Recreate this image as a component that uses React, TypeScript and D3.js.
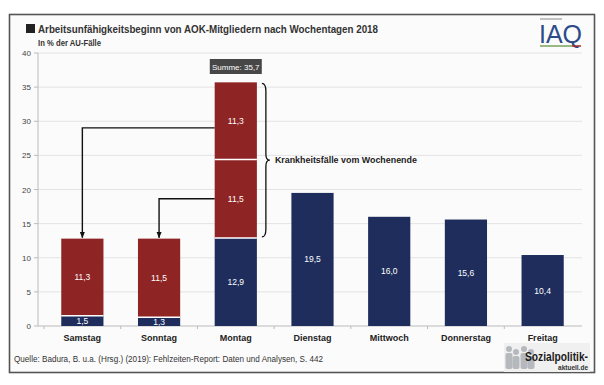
import React from 'react';
import * as d3 from 'd3';

const days = ['Samstag', 'Sonntag', 'Montag', 'Dienstag', 'Mittwoch', 'Donnerstag', 'Freitag'];
// blue base share, lower red share, upper red share (only Montag has both)
const baseValues = [1.5, 1.3, 12.9, 19.5, 16.0, 15.6, 10.4];
const weekendLower = [11.3, 11.5, 11.5, 0, 0, 0, 0];
const weekendUpper = [0, 0, 11.3, 0, 0, 0, 0];
const yTicks = [0, 5, 10, 15, 20, 25, 30, 35, 40];

const W = 604;
const H = 385;
const RED = '#8e2424';
const NAVY = '#1e2d5c';
const FONT = '"Liberation Sans", Arial, sans-serif';

const fmt = (v: number) => v.toFixed(1).replace('.', ',');

export default function App() {
  const x = d3.scaleBand<string>().domain(days).range([44, 581]).paddingInner(0.45).paddingOuter(0.225);
  const y = d3.scaleLinear().domain([0, 40]).range([326, 53]);
  const bw = x.bandwidth();

  const segs = days.flatMap((d, i) => {
    const out: { day: string; y0: number; y1: number; color: string; v: number }[] = [];
    let acc = 0;
    [[baseValues[i], NAVY], [weekendLower[i], RED], [weekendUpper[i], RED]].forEach(([v, c]) => {
      const val = v as number;
      if (val > 0) {
        out.push({ day: d, y0: acc, y1: acc + val, color: c as string, v: val });
        acc += val;
      }
    });
    return out;
  });

  const mon = days[2];
  const monX = x(mon)!;
  const total = baseValues[2] + weekendLower[2] + weekendUpper[2];
  const braceX = monX + bw + 5;
  const braceTop = y(total) + 1;
  const braceBot = y(baseValues[2]) - 1;
  const braceMid = (braceTop + braceBot) / 2;

  const upperMid = y(baseValues[2] + weekendLower[2] + weekendUpper[2] / 2) + 7;
  const lowerMid = y(baseValues[2] + weekendLower[2] / 2);
  const satC = x(days[0])! + bw / 2;
  const sunC = x(days[1])! + bw / 2;
  const satTop = y(baseValues[0] + weekendLower[0]);
  const sunTop = y(baseValues[1] + weekendLower[1]);

  return (
    <svg width={W} height={H} style={{ position: 'fixed', left: 0, top: 0, background: '#fff' }} fontFamily={FONT}>
      <defs>
        <marker id="ah" viewBox="0 0 10 10" refX="9" refY="5" markerWidth="4.5" markerHeight="4.5" orient="auto">
          <path d="M0,1 L10,5 L0,9 z" fill="#111" />
        </marker>
      </defs>
      <rect x={9.5} y={14.5} width={585} height={358} fill="#fbfbfb" stroke="#555" strokeWidth={1.6} />

      {/* title */}
      <rect x={26} y={24} width={9} height={9} fill="#222" />
      <text x={38} y={33} fontSize={11.5} fontWeight="bold" fill="#333" textLength={340} lengthAdjust="spacingAndGlyphs">
        Arbeitsunfähigkeitsbeginn von AOK-Mitgliedern nach Wochentagen 2018
      </text>
      <text x={38} y={46} fontSize={9} fontWeight="bold" fill="#333" textLength={63} lengthAdjust="spacingAndGlyphs">In % der AU-Fälle</text>

      {/* IAQ logo */}
      <line x1={540} x2={562} y1={19} y2={19} stroke="#888" strokeWidth={1} />
      <text x={539} y={43} fontSize={25} fill="#2b4a8a" fontFamily={FONT}>IAQ</text>
      <line x1={540} x2={572} y1={46} y2={46} stroke="#7aa35a" strokeWidth={1.5} />
      <line x1={572} x2={581} y1={46} y2={46} stroke="#a02a2a" strokeWidth={1.5} />

      {/* grid + y axis */}
      {yTicks.map(t => (
        <g key={t}>
          {t > 0 && <line x1={38} x2={582} y1={y(t)} y2={y(t)} stroke="#e3e3e3" strokeWidth={1} />}
          <line x1={34} x2={38} y1={y(t)} y2={y(t)} stroke="#bbb" />
          <text x={31} y={y(t) + 3} fontSize={8} fill="#444" textAnchor="end">{t}</text>
        </g>
      ))}
      <line x1={38} x2={38} y1={y(40)} y2={y(0)} stroke="#bbb" />
      <line x1={38} x2={582} y1={y(0)} y2={y(0)} stroke="#bbb" />
      {days.map(d => (
        <line key={d} x1={x(d)! - (x.step() - bw) / 2} x2={x(d)! - (x.step() - bw) / 2} y1={y(0)} y2={y(0) + 3} stroke="#bbb" />
      ))}

      {/* bars */}
      {segs.map((s, i) => (
        <g key={i}>
          <rect x={x(s.day)} y={y(s.y1)} width={bw} height={y(s.y0) - y(s.y1)} fill={s.color} />
          {s.y0 > 0 && <line x1={x(s.day)} x2={x(s.day)! + bw} y1={y(s.y0)} y2={y(s.y0)} stroke="#fff" strokeWidth={1.5} />}
          <text x={x(s.day)! + bw / 2} y={y((s.y0 + s.y1) / 2) + 3} fontSize={8.5} fill="#fff" textAnchor="middle">
            {fmt(s.v)}
          </text>
        </g>
      ))}

      {/* x labels */}
      {days.map(d => (
        <text key={d} x={x(d)! + bw / 2} y={341} fontSize={9} fontWeight="bold" fill="#222" textAnchor="middle">{d}</text>
      ))}

      {/* Summe box */}
      <rect x={monX + bw / 2 - 26} y={59} width={52} height={15} fill="#474747" />
      <text x={monX + bw / 2} y={69.5} fontSize={8} fill="#fff" textAnchor="middle">Summe: {fmt(total)}</text>

      {/* brace */}
      <path
        d={`M${braceX},${braceTop} Q${braceX + 4},${braceTop} ${braceX + 4},${braceTop + 8} L${braceX + 4},${braceMid - 6} Q${braceX + 4},${braceMid} ${braceX + 8},${braceMid} Q${braceX + 4},${braceMid} ${braceX + 4},${braceMid + 6} L${braceX + 4},${braceBot - 8} Q${braceX + 4},${braceBot} ${braceX},${braceBot}`}
        fill="none" stroke="#111" strokeWidth={1.3}
      />
      <text x={braceX + 13} y={braceMid + 3} fontSize={9} fontWeight="bold" fill="#222" textLength={142} lengthAdjust="spacingAndGlyphs">Krankheitsfälle vom Wochenende</text>

      {/* arrows */}
      <path d={`M${monX},${upperMid} H${satC} V${satTop - 1}`} fill="none" stroke="#111" strokeWidth={1.4} markerEnd="url(#ah)" />
      <path d={`M${monX},${lowerMid} H${sunC} V${sunTop - 1}`} fill="none" stroke="#111" strokeWidth={1.4} markerEnd="url(#ah)" />

      {/* source */}
      <text x={14} y={362} fontSize={8.3} fill="#333" textLength={309} lengthAdjust="spacingAndGlyphs">
        Quelle: Badura, B. u.a. (Hrsg.) (2019): Fehlzeiten-Report: Daten und Analysen, S. 442
      </text>

      {/* sozialpolitik-aktuell logo */}
      <g>
        <rect x={504} y={343} width={86} height={29} fill="#f0f0f0" />
        {[509, 516, 524, 531].map((cx, i) => (
          <g key={cx} fill="#b5b8bd">
            <circle cx={cx} cy={349 + (i % 2) * 3} r={3} />
            <rect x={cx - 3.5} y={353 + (i % 2) * 3} width={7} height={16 - (i % 2) * 3} rx={2} />
          </g>
        ))}
        <text x={525} y={361} fontSize={13} fontWeight="bold" fill="#1a1a1a" textLength={63} lengthAdjust="spacingAndGlyphs">Sozialpolitik-</text>
        <text x={588} y={370} fontSize={6.5} fontWeight="bold" fill="#333" textAnchor="end">aktuell.de</text>
      </g>
    </svg>
  );
}
